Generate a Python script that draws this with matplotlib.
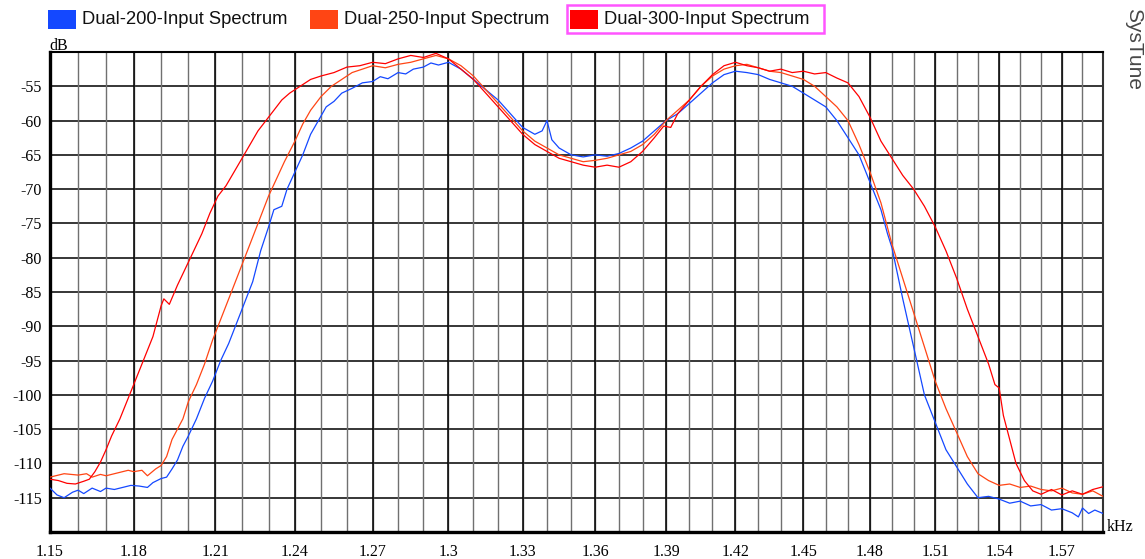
import matplotlib
matplotlib.use("Agg")
import matplotlib.pyplot as plt
from matplotlib.patches import Rectangle
from matplotlib.ticker import FixedLocator, FixedFormatter, NullFormatter

# series names and colours
names = ['Dual-200-Input Spectrum', 'Dual-250-Input Spectrum', 'Dual-300-Input Spectrum']
colors = ['#1448FF', '#FF4514', '#FF0000']

# Dual-200 (blue)
freq_200 = [1.150, 1.1525, 1.155, 1.158, 1.160, 1.162, 1.165, 1.168, 1.170, 1.173, 1.176, 1.179,
            1.182, 1.185, 1.187, 1.190, 1.192, 1.194, 1.196, 1.198, 1.200, 1.203, 1.206, 1.209,
            1.212, 1.215, 1.218, 1.221, 1.224, 1.227, 1.230, 1.232, 1.235, 1.237, 1.240, 1.243,
            1.246, 1.249, 1.252, 1.255, 1.258, 1.262, 1.266, 1.270, 1.273, 1.276, 1.280, 1.283,
            1.286, 1.290, 1.293, 1.296, 1.300, 1.305, 1.310, 1.315, 1.320, 1.325, 1.330, 1.335,
            1.338, 1.340, 1.342, 1.345, 1.350, 1.355, 1.360, 1.365, 1.370, 1.375, 1.380, 1.385,
            1.390, 1.395, 1.400, 1.405, 1.410, 1.415, 1.420, 1.425, 1.430, 1.435, 1.440, 1.445,
            1.450, 1.455, 1.460, 1.465, 1.470, 1.475, 1.480, 1.485, 1.488, 1.490, 1.495, 1.500,
            1.505, 1.510, 1.515, 1.520, 1.525, 1.530, 1.535, 1.540, 1.545, 1.550, 1.555, 1.560,
            1.565, 1.570, 1.575, 1.578, 1.580, 1.583, 1.586, 1.590]
db_200 = [-113.6, -114.6, -115.0, -114.2, -113.9, -114.4, -113.6, -114.1, -113.6, -113.8, -113.5, -113.2,
          -113.3, -113.5, -112.8, -112.2, -112.0, -110.8, -109.5, -107.5, -106.0, -103.5, -100.5, -98.0,
          -95.0, -92.5, -89.5, -86.5, -83.5, -79.0, -75.5, -73.0, -72.5, -70.0, -67.5, -65.0,
          -62.0, -60.0, -58.0, -57.2, -56.0, -55.3, -54.5, -54.3, -53.6, -53.9, -53.0, -53.2,
          -52.5, -52.2, -51.6, -51.9, -51.5, -52.5, -54.0, -55.5, -57.0, -59.0, -61.0, -62.0,
          -61.5, -60.0, -62.8, -64.0, -65.0, -65.3, -65.0, -65.2, -64.8, -64.0, -63.0, -61.5,
          -60.0, -59.0, -57.5, -56.0, -54.5, -53.3, -52.8, -53.0, -53.3, -54.0, -54.5, -55.0,
          -56.0, -57.0, -58.0, -60.0, -62.5, -65.0, -69.0, -73.0, -76.5, -78.5, -86.0, -93.0,
          -100.0, -104.0, -108.0, -110.5, -113.0, -115.0, -114.8, -115.2, -115.8, -115.5, -116.2, -116.0,
          -116.8, -116.6, -117.2, -117.8, -116.5, -117.3, -116.8, -117.3]

# Dual-250 (orange)
freq_250 = [1.150, 1.155, 1.160, 1.163, 1.165, 1.168, 1.170, 1.175, 1.178, 1.180, 1.183, 1.185,
            1.188, 1.190, 1.192, 1.194, 1.196, 1.198, 1.200, 1.203, 1.206, 1.209, 1.212, 1.215,
            1.218, 1.221, 1.224, 1.227, 1.230, 1.233, 1.236, 1.240, 1.243, 1.246, 1.250, 1.254,
            1.258, 1.262, 1.266, 1.270, 1.275, 1.280, 1.285, 1.290, 1.295, 1.300, 1.305, 1.310,
            1.315, 1.320, 1.325, 1.330, 1.335, 1.340, 1.345, 1.350, 1.355, 1.360, 1.365, 1.370,
            1.375, 1.380, 1.385, 1.390, 1.395, 1.400, 1.405, 1.410, 1.415, 1.420, 1.425, 1.430,
            1.435, 1.440, 1.445, 1.450, 1.455, 1.460, 1.465, 1.470, 1.475, 1.480, 1.485, 1.490,
            1.495, 1.500, 1.505, 1.510, 1.515, 1.520, 1.525, 1.530, 1.535, 1.540, 1.545, 1.550,
            1.555, 1.560, 1.565, 1.570, 1.575, 1.580, 1.585, 1.590]
db_250 = [-112.0, -111.5, -111.7, -111.5, -112.0, -111.6, -111.8, -111.3, -111.0, -111.2, -111.0, -111.8,
          -110.8, -110.3, -109.0, -106.5, -105.0, -103.5, -101.0, -98.5, -95.5, -92.0, -89.0, -86.0,
          -83.0, -80.0, -77.0, -74.0, -71.0, -68.5, -66.0, -63.0, -60.5, -58.5, -56.5, -55.0,
          -54.0, -53.0, -52.5, -52.0, -52.3, -51.8, -51.5, -51.0, -50.5, -51.0, -52.0, -53.5,
          -55.5, -57.5, -59.5, -61.5, -63.0, -64.0, -65.0, -65.5, -66.0, -65.8, -65.5, -65.0,
          -64.5, -63.5, -62.0, -60.0, -58.5, -57.0, -55.0, -53.5, -52.5, -52.0, -51.8, -52.3,
          -52.8, -53.0, -53.5, -54.0, -55.0, -56.5, -58.0, -60.0, -63.5, -67.5, -72.0, -78.0,
          -83.0, -88.0, -93.0, -98.0, -102.0, -105.5, -109.0, -111.5, -112.5, -113.2, -113.0, -113.5,
          -113.3, -113.8, -114.0, -113.6, -114.3, -114.5, -114.0, -114.8]

# Dual-300 (red)
freq_300 = [1.150, 1.153, 1.156, 1.159, 1.162, 1.164, 1.166, 1.168, 1.170, 1.172, 1.175, 1.178,
            1.181, 1.184, 1.187, 1.189, 1.190, 1.191, 1.193, 1.196, 1.199, 1.202, 1.205, 1.208,
            1.211, 1.214, 1.217, 1.220, 1.223, 1.226, 1.229, 1.232, 1.235, 1.238, 1.242, 1.246,
            1.250, 1.255, 1.260, 1.265, 1.270, 1.275, 1.280, 1.285, 1.290, 1.295, 1.300, 1.305,
            1.310, 1.315, 1.320, 1.325, 1.330, 1.335, 1.340, 1.345, 1.350, 1.355, 1.360, 1.365,
            1.370, 1.375, 1.380, 1.385, 1.389, 1.392, 1.395, 1.400, 1.405, 1.410, 1.415, 1.420,
            1.425, 1.430, 1.435, 1.440, 1.445, 1.450, 1.455, 1.460, 1.465, 1.470, 1.475, 1.480,
            1.485, 1.490, 1.495, 1.500, 1.505, 1.510, 1.515, 1.520, 1.525, 1.530, 1.535, 1.538,
            1.540, 1.542, 1.545, 1.548, 1.552, 1.556, 1.560, 1.565, 1.570, 1.575, 1.580, 1.585,
            1.590]
db_300 = [-112.3, -112.5, -112.9, -113.0, -112.6, -112.3, -111.2, -109.8, -108.0, -106.0, -103.5, -100.5,
          -97.5, -94.5, -91.5, -88.5, -87.0, -86.0, -86.8, -84.0, -81.5, -79.0, -76.5, -73.5,
          -71.0, -69.5, -67.5, -65.5, -63.5, -61.5, -60.0, -58.5, -57.0, -56.0, -55.0, -54.0,
          -53.5, -53.0, -52.2, -52.0, -51.5, -51.7, -51.0, -50.5, -50.8, -50.2, -51.0, -52.5,
          -54.0, -56.0, -58.0, -60.0, -62.0, -63.5, -64.5, -65.5, -66.0, -66.5, -66.8, -66.5,
          -66.8, -66.0, -64.5, -62.5, -60.8, -61.0, -59.0, -57.0, -55.0, -53.3, -52.0, -51.5,
          -52.0, -52.3, -52.8, -52.5, -53.0, -52.8, -53.2, -53.0, -53.8, -54.5, -56.5, -59.5,
          -63.0, -65.5, -68.0, -70.0, -72.5, -75.5, -79.0, -83.0, -87.5, -91.5, -95.5, -98.5,
          -99.0, -103.0, -106.5, -110.0, -112.5, -114.0, -114.5, -113.8, -114.6, -114.0, -114.5, -113.8,
          -113.4]

x_major = [1.15, 1.18, 1.21, 1.24, 1.27, 1.30, 1.33, 1.36, 1.39, 1.42, 1.45, 1.48, 1.51, 1.54, 1.57]
x_labels = ['1.15', '1.18', '1.21', '1.24', '1.27', '1.3', '1.33', '1.36', '1.39', '1.42',
            '1.45', '1.48', '1.51', '1.54', '1.57']
x_minor = [round(1.15 + 0.01 * i, 2) for i in range(45)]
y_ticks = [-115, -110, -105, -100, -95, -90, -85, -80, -75, -70, -65, -60, -55]

W, H = 1145, 559
fig = plt.figure(figsize=(W / 100, H / 100), dpi=100)
ax = fig.add_axes([50 / W, 1 - 532 / H, 1053 / W, 480 / H])

series = [(freq_200, db_200), (freq_250, db_250), (freq_300, db_300)]
for (f, d), c in zip(series, colors):
    ax.plot(f, d, color=c, lw=0.9, zorder=3)

ax.set_xscale('log')
ax.set_xlim(1.15, 1.59)
ax.set_ylim(-120, -50)
ax.xaxis.set_major_locator(FixedLocator(x_major))
ax.xaxis.set_major_formatter(FixedFormatter(x_labels))
ax.xaxis.set_minor_locator(FixedLocator([]))
ax.xaxis.set_minor_formatter(NullFormatter())
ax.set_yticks(y_ticks)
ax.set_yticklabels([str(v) for v in y_ticks])

ax.tick_params(which='both', length=0)
ax.tick_params(axis='x', pad=9, labelsize=11.5)
ax.tick_params(axis='y', pad=6, labelsize=11.5)
for lab in ax.get_xticklabels() + ax.get_yticklabels():
    lab.set_fontfamily('Liberation Serif')

# vertical grid: grey every 0.01, black at the labelled ones
for xv in x_minor:
    ax.axvline(xv, color='#707070', lw=1.0, zorder=1)
for xv in x_major:
    ax.axvline(xv, color='#000000', lw=1.1, zorder=2)
ax.yaxis.grid(True, which='major', color='#000000', lw=1.1, zorder=2)
ax.set_axisbelow(True)

ax.spines['left'].set_linewidth(2.4)
ax.spines['bottom'].set_linewidth(2.4)
ax.spines['top'].set_linewidth(1.5)
ax.spines['right'].set_linewidth(1.5)
ax.spines['right'].set_color('#333333')

# axis unit labels
fig.text(49 / W, 1 - 50 / H, 'dB', fontsize=11.5, family='Liberation Serif', ha='left', va='baseline')
fig.text(1107 / W, 1 - 531 / H, 'kHz', fontsize=11.5, family='Liberation Serif', ha='left', va='baseline')
fig.text(1134 / W, 1 - 8 / H, 'SysTune', fontsize=15, color='#474747', family='Liberation Sans',
         rotation=270, ha='center', va='top')

# legend row
leg_x = [48, 310, 570]
for xs, c, n in zip(leg_x, colors, names):
    fig.add_artist(Rectangle((xs / W, 1 - 29 / H), 28 / W, 19 / H, transform=fig.transFigure,
                             facecolor=c, edgecolor='none'))
    fig.text((xs + 34) / W, 1 - 20 / H, n, fontsize=13.2, family='Liberation Sans',
             ha='left', va='center', color='#111111')
fig.add_artist(Rectangle((567 / W, 1 - 33 / H), 257 / W, 28 / H, transform=fig.transFigure,
                         facecolor='none', edgecolor='#FF55FF', lw=1.8))

fig.savefig('out.png', dpi=100)
